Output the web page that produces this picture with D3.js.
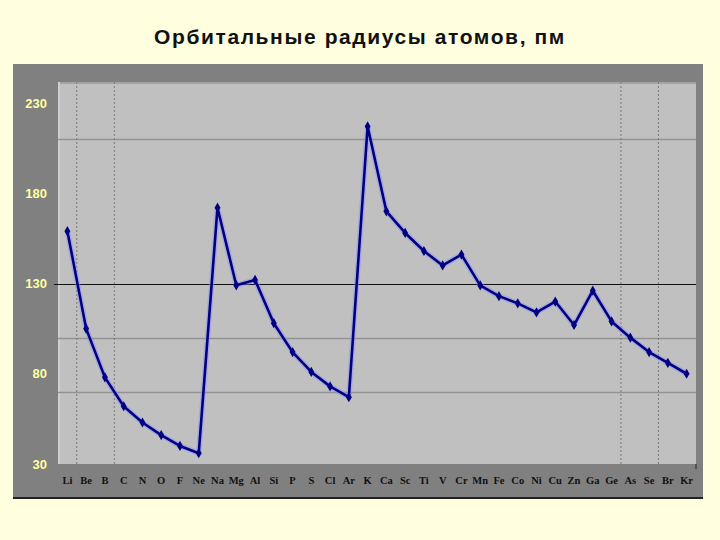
<!DOCTYPE html>
<html>
<head>
<meta charset="utf-8">
<script src="https://cdn.jsdelivr.net/npm/d3@7"></script>
<style>
  body { margin: 0; background: #ffffe0; }
  svg { display: block; }
</style>
</head>
<body>
<div id="chart"></div>
<script>
(function () {

    var elements = ["Li", "Be", "B", "C", "N", "O", "F", "Ne", "Na", "Mg", "Al", "Si", "P", "S", "Cl", "Ar",
        "K", "Ca", "Sc", "Ti", "V", "Cr", "Mn", "Fe", "Co", "Ni", "Cu", "Zn", "Ga", "Ge", "As", "Se", "Br", "Kr"];
    var radii = [159, 105, 78, 62, 53, 46, 40, 36, 172, 129, 132, 108, 92, 81, 73, 67,
        217, 170, 158, 148, 140, 146, 129, 123, 119, 114, 120, 107, 126, 109, 100, 92, 86, 80];
    var yTicks = [30, 80, 130, 180, 230];
    var refLines = [210, 100, 70];
    // period boundaries drawn as dashed lines (after these elements)
    var dashedAfter = ["Li", "B", "Ge", "Se"];
    var title = "Орбитальные радиусы атомов, пм";

    var width = 720, height = 540;
    var panel = { x: 13, y: 64, w: 690, h: 434 };
    var plot = { left: 58, right: 696, top: 82, bottom: 464 };

    var svg = d3.select("#chart").append("svg")
        .attr("width", width).attr("height", height);

    svg.append("rect").attr("width", width).attr("height", height).attr("fill", "#ffffe0");

    svg.append("text")
        .attr("x", 360).attr("y", 44)
        .attr("text-anchor", "middle")
        .attr("font-family", "Liberation Sans, Arial, sans-serif")
        .attr("font-weight", "bold")
        .attr("font-size", 21)
        .attr("letter-spacing", 1.6)
        .attr("fill", "#111")
        .text(title);

    // outer gray panel
    svg.append("rect")
        .attr("x", panel.x).attr("y", panel.y)
        .attr("width", panel.w).attr("height", panel.h)
        .attr("fill", "#808080");
    svg.append("line")
        .attr("x1", panel.x).attr("x2", panel.x + panel.w)
        .attr("y1", panel.y + panel.h).attr("y2", panel.y + panel.h)
        .attr("stroke", "#222").attr("stroke-width", 2);

    var x = d3.scaleBand().domain(elements).range([plot.left, plot.right]).padding(0);
    var y = d3.scaleLinear().domain([30, 230]).range([464, 103]);
    var cx = function (d) { return x(d) + x.bandwidth() / 2; };

    // plot area
    svg.append("rect")
        .attr("x", plot.left).attr("y", plot.top)
        .attr("width", plot.right - plot.left).attr("height", plot.bottom - plot.top)
        .attr("fill", "#c0c0c0");
    svg.append("line")
        .attr("x1", plot.left).attr("x2", plot.right)
        .attr("y1", plot.top + 1).attr("y2", plot.top + 1)
        .attr("stroke", "#a4a4a4").attr("stroke-width", 2);
    svg.append("line")
        .attr("x1", plot.left + 1).attr("x2", plot.left + 1)
        .attr("y1", plot.top).attr("y2", plot.bottom)
        .attr("stroke", "#cfcfcf").attr("stroke-width", 2);

    // horizontal reference lines
    svg.selectAll(".ref").data(refLines).enter().append("line")
        .attr("x1", plot.left).attr("x2", plot.right)
        .attr("y1", function (d) { return Math.round(y(d)) + 0.5; })
        .attr("y2", function (d) { return Math.round(y(d)) + 0.5; })
        .attr("stroke", "#929292").attr("stroke-width", 1.5);

    svg.append("line")
        .attr("x1", plot.left - 4).attr("x2", plot.right)
        .attr("y1", Math.round(y(130)) + 0.5).attr("y2", Math.round(y(130)) + 0.5)
        .attr("stroke", "#111").attr("stroke-width", 1.2);

    // dashed period boundaries
    var bx = function (d) { return x(d) + x.bandwidth(); };
    svg.selectAll(".vdash").data(dashedAfter).enter().append("line")
        .attr("x1", bx).attr("x2", bx)
        .attr("y1", plot.top).attr("y2", plot.bottom + 5)
        .attr("stroke", "#7a7a7a").attr("stroke-width", 1)
        .attr("stroke-dasharray", "2,2");
    svg.append("line")
        .attr("x1", plot.right).attr("x2", plot.right)
        .attr("y1", plot.bottom).attr("y2", plot.bottom + 5)
        .attr("stroke", "#222");

    // y axis labels
    svg.selectAll(".ylab").data(yTicks).enter().append("text")
        .attr("x", 47).attr("y", function (d) { return y(d) + 4.5; })
        .attr("text-anchor", "end")
        .attr("font-family", "Liberation Sans, Arial, sans-serif")
        .attr("font-weight", "bold")
        .attr("font-size", 13)
        .attr("fill", "#ffffa0")
        .text(function (d) { return d; });

    // x axis labels
    svg.selectAll(".xlab").data(elements).enter().append("text")
        .attr("x", cx).attr("y", 484)
        .attr("text-anchor", "middle")
        .attr("font-family", "Liberation Serif, Times New Roman, serif")
        .attr("font-weight", "bold")
        .attr("font-size", 10.5)
        .attr("fill", "#111")
        .text(function (d) { return d; });

    // series
    var pts = elements.map(function (e, i) { return { e: e, v: radii[i] }; });
    var line = d3.line().x(function (d) { return cx(d.e); }).y(function (d) { return y(d.v); });

    svg.append("path").datum(pts)
        .attr("fill", "none").attr("stroke", "#8c8cff").attr("stroke-opacity", 0.45)
        .attr("stroke-width", 5.5).attr("stroke-linejoin", "round")
        .attr("d", line);
    svg.append("path").datum(pts)
        .attr("fill", "none").attr("stroke", "#000080")
        .attr("stroke-width", 2.6).attr("stroke-linejoin", "round")
        .attr("d", line);

    var diamond = d3.symbol().type(d3.symbolDiamond).size(30);
    svg.selectAll(".pt").data(pts).enter().append("path")
        .attr("transform", function (d) { return "translate(" + cx(d.e) + "," + y(d.v) + ")"; })
        .attr("d", diamond)
        .attr("fill", "#000080");
})();
</script>
</body>
</html>
